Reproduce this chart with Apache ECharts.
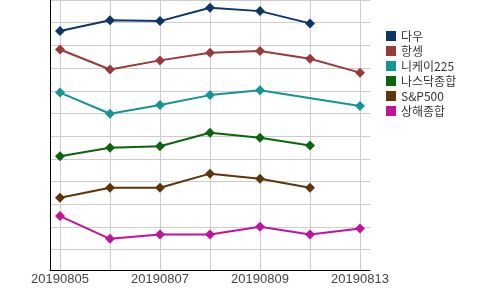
<!DOCTYPE html>
<html>
<head>
<meta charset="utf-8">
<script src="https://cdn.jsdelivr.net/npm/echarts@6/dist/echarts.min.js"></script>
<style>html,body{margin:0;padding:0;background:#fff}#c{width:500px;height:290px}</style>
</head>
<body>
<div id="c"></div>
<script>
const categories = ['20190805','20190806','20190807','20190808','20190809','20190812','20190813'];
const seriesNames = ['다우','항셍','니케이225','나스닥종합','S&P500','상해종합'];
const dow    = [10.63, 11.11, 11.07, 11.66, 11.51, 10.97, null];
const hangseng = [9.82, 8.94, 9.34, 9.68, 9.75, 9.41, 8.80];
const nikkei = [7.92, 6.99, 7.37, 7.81, 8.02, null, 7.33];
const nasdaq = [5.12, 5.49, 5.56, 6.15, 5.93, 5.59, null];
const sp500  = [3.29, 3.73, 3.73, 4.35, 4.13, 3.73, null];
const shanghai = [2.48, 1.48, 1.67, 1.67, 2.01, 1.67, 1.93];
const colors = ['#0c3668','#993a3a','#139597','#0b650d','#5e3409','#c1129f'];
const allData = [dow, hangseng, nikkei, nasdaq, sp500, shanghai];

const chart = echarts.init(document.getElementById('c'), null, {renderer:'canvas'});
chart.setOption({
  animation: false,
  color: colors,
  grid: {left: 50, right: 130, top: 0, bottom: 20, containLabel: false},
  legend: {
    orient: 'vertical', left: 381, top: 25,
    icon: 'rect', itemWidth: 10, itemHeight: 10, itemGap: 3,
    textStyle: {fontFamily: 'Noto Sans CJK KR', fontSize: 12, color: '#333'},
    data: seriesNames
  },
  xAxis: {
    type: 'value', min: -0.2, max: 6.2, splitNumber: 7,
    axisLine: {show: true, onZero: false, lineStyle: {color: '#000', width: 1}},
    axisTick: {show: false},
    axisLabel: {
      fontFamily: 'Liberation Sans', fontSize: 13, color: '#444', margin: 3,
      showMinLabel: false, showMaxLabel: false,
      formatter: v => (Number.isInteger(v) && v % 2 === 0) ? categories[v] : ''
    },
    splitLine: {show: true, showMinLine: false, showMaxLine: false, lineStyle: {color: '#cccccc', width: 1}}
  },
  yAxis: {
    type: 'value', min: 0.106, max: 12, splitNumber: 12,
    axisLine: {show: true, onZero: false, lineStyle: {color: '#000', width: 1}},
    axisTick: {show: false},
    axisLabel: {show: false},
    splitLine: {show: true, showMinLine: false, lineStyle: {color: '#cccccc', width: 1}}
  },
  series: seriesNames.map((name, i) => ({
    name: name, type: 'line',
    data: allData[i].map((v, j) => [j, v]),
    connectNulls: true,
    symbol: 'diamond', symbolSize: 10, showAllSymbol: true,
    lineStyle: {width: 2, color: colors[i]},
    itemStyle: {color: colors[i]}
  }))
});
</script>
</body>
</html>
